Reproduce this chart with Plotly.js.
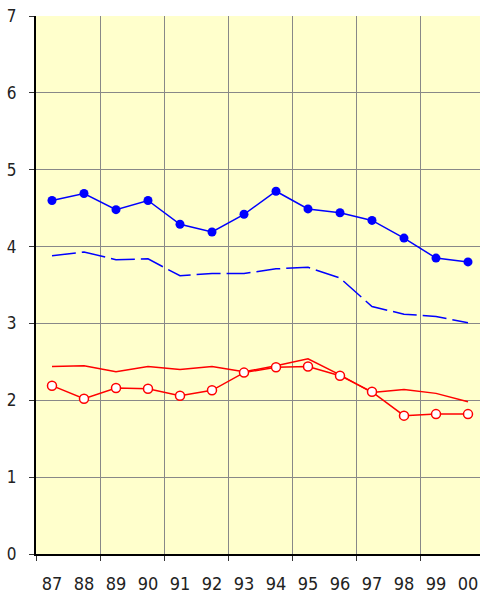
<!DOCTYPE html>
<html>
<head>
<meta charset="utf-8">
<script src="https://cdn.plot.ly/plotly-3.0.1.min.js"></script>
<style>html,body{margin:0;padding:0;background:#fff;}#chart{width:480px;height:596px;}</style>
</head>
<body>
<div id="chart"></div>
<script>
const years = ['87','88','89','90','91','92','93','94','95','96','97','98','99','00'];
const blueMarkers = [4.60, 4.69, 4.48, 4.60, 4.29, 4.19, 4.42, 4.72, 4.49, 4.44, 4.34, 4.11, 3.85, 3.80];
const blueDashed  = [3.88, 3.93, 3.83, 3.84, 3.62, 3.65, 3.65, 3.71, 3.73, 3.59, 3.22, 3.12, 3.09, 3.01];
const redMarkers  = [2.19, 2.02, 2.16, 2.15, 2.06, 2.13, 2.36, 2.43, 2.44, 2.32, 2.11, 1.80, 1.82, 1.82];
const redLine     = [2.44, 2.45, 2.37, 2.44, 2.40, 2.44, 2.37, 2.45, 2.54, 2.33, 2.10, 2.14, 2.09, 1.98];
const yTicks = [0,1,2,3,4,5,6,7];

const xIdx = years.map((_, i) => i);
const gridPos = [-0.5];
for (let i = 1.5; i < years.length - 1; i += 2) gridPos.push(i);

const font = "'DejaVu Sans Condensed', 'Liberation Sans Narrow', 'Arial Narrow', 'Liberation Sans', sans-serif";

const traces = [
  {x: xIdx, y: redLine, mode: 'lines', line: {color: '#ff0000', width: 1.5}, hoverinfo: 'skip'},
  {x: xIdx, y: redMarkers, mode: 'lines+markers', line: {color: '#ff0000', width: 1.5},
   marker: {symbol: 'circle', size: 9, color: '#ffffff', line: {color: '#ff0000', width: 1.5}}},
  {x: xIdx, y: blueDashed, mode: 'lines', line: {color: '#0000ff', width: 1.5, dash: '24px,6px'}},
  {x: xIdx, y: blueMarkers, mode: 'lines+markers', line: {color: '#0000ff', width: 1.5},
   marker: {symbol: 'circle', size: 9, color: '#0000ff', line: {color: '#0000ff', width: 0}}},
  {x: [0], y: [null], xaxis: 'x2', showlegend: false, hoverinfo: 'skip'}
];

const layout = {
  width: 480, height: 596,
  margin: {l: 36, r: 0, t: 16, b: 42, pad: 0},
  paper_bgcolor: '#ffffff',
  plot_bgcolor: '#ffffcc',
  showlegend: false,
  xaxis: {
    range: [-0.5, 13.375],
    tickmode: 'array', tickvals: xIdx, ticktext: years,
    showgrid: false, zeroline: false,
    ticks: '', ticklabelstandoff: 12,
    showline: true, linecolor: '#000000', linewidth: 2,
    tickfont: {family: font, size: 18, color: '#222222'},
    fixedrange: true
  },
  xaxis2: {
    matches: 'x', overlaying: 'x', side: 'bottom',
    tickmode: 'array', tickvals: gridPos,
    showticklabels: false, ticks: 'outside', ticklen: 6, tickcolor: '#333333', tickwidth: 1,
    showgrid: true, gridcolor: '#888888', gridwidth: 1, zeroline: false, showline: false,
    layer: 'below traces'
  },
  yaxis: {
    range: [0, 7],
    tickmode: 'array', tickvals: yTicks,
    showgrid: true, gridcolor: '#888888', gridwidth: 1, zeroline: false,
    ticks: 'outside', ticklen: 5, tickcolor: '#333333', ticklabelstandoff: 9,
    showline: true, linecolor: '#000000', linewidth: 2,
    tickfont: {family: font, size: 17, color: '#222222'},
    fixedrange: true
  }
};

Plotly.newPlot('chart', traces, layout, {staticPlot: true, displayModeBar: false});
</script>
</body>
</html>
